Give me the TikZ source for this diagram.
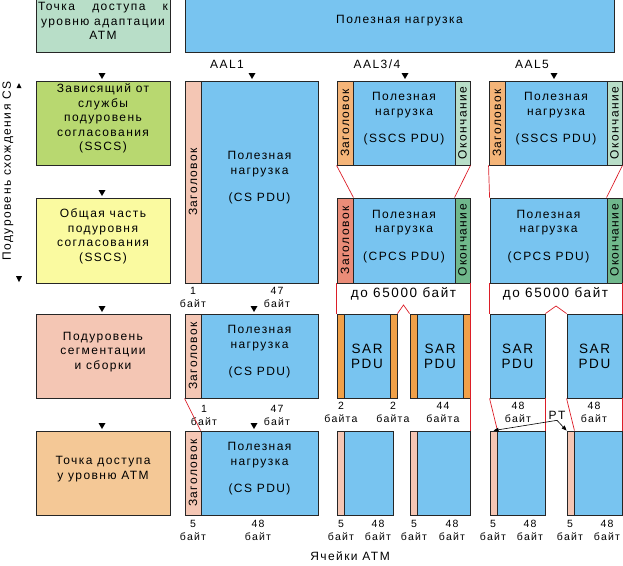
\documentclass[tikz,border=0pt]{standalone}
\usepackage{fontspec}
\setmainfont{Liberation Sans}[LetterSpace=12]
\usetikzlibrary{fit,arrows.meta}

\definecolor{payload}{RGB}{120,196,240}
\definecolor{topgreen}{RGB}{184,222,200}
\definecolor{sscsgreen}{RGB}{184,216,112}
\definecolor{cpcsyellow}{RGB}{250,250,160}
\definecolor{sarpink}{RGB}{244,198,180}
\definecolor{atmorange}{RGB}{244,200,150}
\definecolor{hdrorange}{RGB}{244,180,120}
\definecolor{hdrsalmon}{RGB}{234,140,120}
\definecolor{trlgreen}{RGB}{112,184,140}
\definecolor{sarstrip}{RGB}{240,160,72}
\definecolor{linkred}{RGB}{220,30,40}

\tikzset{
  blk/.style={draw=black!85, line width=0.9pt, inner sep=0pt, align=center, fill=#1},
  vtxt/.style={rotate=90, inner sep=0pt},
  bytes/.style={align=center, inner sep=0pt, font=\fontsize{10.5}{13}\selectfont},
  lenbox/.style={fill=white, inner sep=0pt, font=\fontsize{13.5}{16}\selectfont},
  sartxt/.style={font=\fontsize{13.5}{15}\selectfont},
  redl/.style={draw=linkred, line width=0.7pt},
  redthick/.style={draw=linkred, line width=1.8pt},
}
\newcommand\dnmark[2]{\fill (#1,#2) -- ++(-3.5,-6) -- ++(7,0) -- cycle;}

\begin{document}
\begin{tikzpicture}[x=1pt, y=-1pt, font=\fontsize{12}{14.5}\selectfont]
\useasboundingbox (0,0) rectangle (623,565);

\node[blk=topgreen, fit={(36,-2) (170,52)}] (sap) {\makebox[130pt][s]{Точка доступа к}\\уровню адаптации\\АТМ};
\node[blk=payload, fit={(185,-2) (614,52)}] (user) {Полезная нагрузка};

\node[blk=sscsgreen, fit={(36,81) (170,165)}] (sscs) {Зависящий от\\службы\\подуровень\\согласования\\(SSCS)};
\node[blk=cpcsyellow, fit={(36,198) (170,283)}] (cpcs) {Общая часть\\подуровня\\согласования\\(SSCS)};
\node[blk=sarpink, fit={(36,314) (170,398)}] (sar) {Подуровень\\сегментации\\и сборки};
\node[blk=atmorange, fit={(36,431) (170,515)}] (atm) {Точка доступа\\у уровню АТМ};

\node[rotate=90, inner sep=0pt] (cslbl) at (8,171) {Подуровень схождения CS};
\fill (19,83) -- ++(-2.5,5) -- ++(5,0) -- cycle;
\fill (19,282) -- ++(-3,-6) -- ++(6,0) -- cycle;

\node (aal1) at (227,64) {AAL1};
\node (aal34) at (377,64) {AAL3/4};
\node (aal5) at (532,64) {AAL5};

\dnmark{102}{79} \dnmark{252}{79} \dnmark{405}{79} \dnmark{554}{79}
\dnmark{102}{196}
\dnmark{102}{312} \dnmark{254}{312}
\dnmark{102}{429} \dnmark{254}{429}

% AAL1
\node[blk=sarpink, fit={(185,81) (201,283)}] (a1h1) {};
\node[blk=payload, fit={(201,81) (318,283)}] (a1p1) {Полезная\\нагрузка\\[13pt](CS PDU)};
\node[vtxt] (a1t1) at (a1h1) {Заголовок};
\node[bytes] (a1b1) at (193,297) {1\\байт};
\node[bytes] (a1b2) at (277,297) {47\\байт};

\node[blk=sarpink, fit={(185,314) (201,398)}] (a1h3) {};
\node[blk=payload, fit={(201,314) (318,398)}] (a1p3) {Полезная\\нагрузка\\[13pt](CS PDU)};
\node[vtxt] (a1t3) at (a1h3) {Заголовок};
\node[bytes] (a1b3) at (204,415) {1\\байт};
\node[bytes] (a1b4) at (277,415) {47\\байт};

\node[blk=sarpink, fit={(185,431) (201,515)}] (a1h4) {};
\node[blk=payload, fit={(201,431) (318,515)}] (a1p4) {Полезная\\нагрузка\\[13pt](CS PDU)};
\node[vtxt] (a1t4) at (a1h4) {Заголовок};
\node[bytes] (a1b5) at (193,530) {5\\байт};
\node[bytes] (a1b6) at (258,530) {48\\байт};

\draw[redl] (a1h3.south west) -- (a1p4.north west);

% AAL3/4
\node[blk=hdrorange, fit={(337,81) (353,165)}] (b1h) {};
\node[blk=payload, fit={(353,81) (455,165)}] (b1p) {Полезная\\нагрузка\\[13pt](SSCS PDU)};
\node[blk=topgreen, fit={(455,81) (470,165)}] (b1t) {};
\node[vtxt] (b1ht) at (b1h) {Заголовок};
\node[vtxt] (b1tt) at (b1t) {Окончание};

\node[blk=hdrsalmon, fit={(337,198) (353,283)}] (b2h) {};
\node[blk=payload, fit={(353,198) (455,283)}] (b2p) {Полезная\\нагрузка\\[13pt](CPCS PDU)};
\node[blk=trlgreen, fit={(455,198) (470,283)}] (b2t) {};
\node[vtxt] (b2ht) at (b2h) {Заголовок};
\node[vtxt] (b2tt) at (b2t) {Окончание};
\node[lenbox, fit={(338,284) (469,313)}] (b2len) {до 65000 байт};

\node[blk=payload, fit={(337,314) (397,398)}] (b3s1) {};
\node[blk=sarstrip, fit={(337,314) (344,398)}] (b3s1h) {};
\node[blk=sarstrip, fit={(390,314) (397,398)}] (b3s1t) {};
\node[sartxt, align=center] (b3s1x) at (b3s1) {SAR\\PDU};
\node[blk=payload, fit={(410,314) (470,398)}] (b3s2) {};
\node[blk=sarstrip, fit={(410,314) (417,398)}] (b3s2h) {};
\node[blk=sarstrip, fit={(463,314) (470,398)}] (b3s2t) {};
\node[sartxt, align=center] (b3s2x) at (b3s2) {SAR\\PDU};
\node[bytes] (b3b1) at (341,412) {2\\байта};
\node[bytes] (b3b2) at (393,412) {2\\байта};
\node[bytes] (b3b3) at (443,412) {44\\байта};

\node[blk=payload, fit={(337,431) (393,515)}] (b4c1) {};
\node[blk=sarpink, fit={(337,431) (344,515)}] (b4c1h) {};
\node[blk=payload, fit={(410,431) (470,515)}] (b4c2) {};
\node[blk=sarpink, fit={(410,431) (417,515)}] (b4c2h) {};
\node[bytes] (b4b1) at (341,530) {5\\байт};
\node[bytes] (b4b2) at (378,530) {48\\байт};
\node[bytes] (b4b3) at (414,530) {5\\байт};
\node[bytes] (b4b4) at (452,530) {48\\байт};

\coordinate (bpk) at (403.5,305);
\draw[redl] (b1h.south west) -- (b2h.north east);
\draw[redl] (b1t.south east) -- (b2t.north west);
\draw[redl] (b2h.south west) -- (b3s1.north west);
\draw[redl] (b3s1.north east) -- (bpk) -- (b3s2.north west);
\draw[redthick] (b2t.south east) -- (b4c2.north east);

% AAL5
\node[blk=hdrorange, fit={(489,81) (505,165)}] (c1h) {};
\node[blk=payload, fit={(505,81) (607,165)}] (c1p) {Полезная\\нагрузка\\[13pt](SSCS PDU)};
\node[blk=topgreen, fit={(607,81) (622,165)}] (c1t) {};
\node[vtxt] (c1ht) at (c1h) {Заголовок};
\node[vtxt] (c1tt) at (c1t) {Окончание};

\node[blk=payload, fit={(490,198) (607,283)}] (c2p) {Полезная\\нагрузка\\[13pt](CPCS PDU)};
\node[blk=trlgreen, fit={(607,198) (622,283)}] (c2t) {};
\node[vtxt] (c2tt) at (c2t) {Окончание};
\node[lenbox, fit={(490,284) (621,313)}] (c2len) {до 65000 байт};

\node[blk=payload, fit={(490,314) (545,398)}] (c3s1) {};
\node[sartxt, align=center] (c3s1x) at (c3s1) {SAR\\PDU};
\node[blk=payload, fit={(567,314) (622,398)}] (c3s2) {};
\node[sartxt, align=center] (c3s2x) at (c3s2) {SAR\\PDU};
\node[bytes] (c3b1) at (518,412) {48\\байт};
\node[bytes] (c3b2) at (594,412) {48\\байт};
\node[inner sep=0pt] (pt) at (557,415) {PT};

\node[blk=payload, fit={(490,431) (545,515)}] (c4c1) {};
\node[blk=sarpink, fit={(490,431) (497,515)}] (c4c1h) {};
\node[blk=payload, fit={(567,431) (622,515)}] (c4c2) {};
\node[blk=sarpink, fit={(567,431) (574,515)}] (c4c2h) {};
\node[bytes] (c4b1) at (493,530) {5\\байт};
\node[bytes] (c4b2) at (530,530) {48\\байт};
\node[bytes] (c4b3) at (570,530) {5\\байт};
\node[bytes] (c4b4) at (607,530) {48\\байт};

\coordinate (cpk) at (556,306);
\draw[redl] (c1h.south west) -- (c2p.north west);
\draw[redl] (c1t.south east) -- (c2t.north west);
\draw[redl] (c2p.south west) -- (c3s1.north west);
\draw[redthick] (c2t.south east) -- (c3s2.north east);
\draw[redl] (c3s1.north east) -- (cpk) -- (c3s2.north west);
\draw[redl] (c3s1.south west) -- (c4c1h.north east);
\draw[redthick] (c3s1.south east) -- (c4c1.north east);
\draw[redl] (c3s2.south west) -- (c4c2h.north east);
\draw[redl] (c3s2.south east) -- (c4c2.north east);
\draw[line width=0.6pt, {Triangle[length=5pt,width=4pt]}-{Triangle[length=5pt,width=4pt]}]
  (c4c1h.north) -- ([yshift=-1pt]pt.south) -- (c4c2h.north west);

\node (cells) at (350,556) {Ячейки АТМ};
\end{tikzpicture}
\end{document}
